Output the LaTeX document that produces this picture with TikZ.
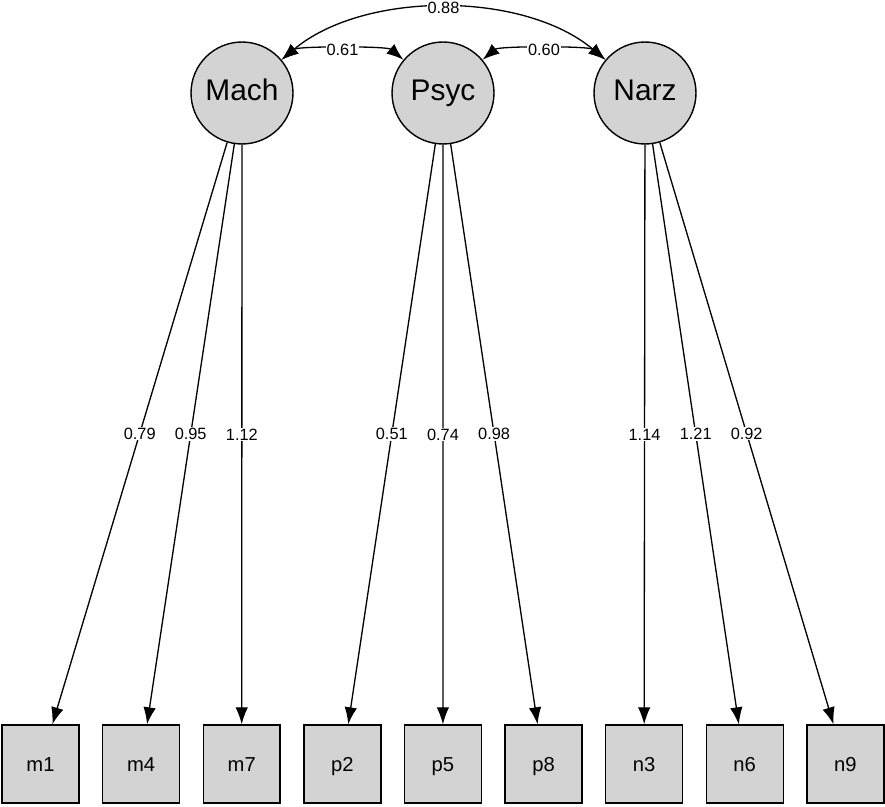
\documentclass[tikz,border=0pt]{standalone}
\usepackage{fontspec}
\setmainfont{Liberation Sans}
\usetikzlibrary{arrows.meta}
\definecolor{nodegray}{RGB}{211,211,211}

\begin{document}
\begin{tikzpicture}[x=0.02cm, y=0.02cm,
    latent/.style={circle, draw, fill=nodegray, line width=0.8pt,
        minimum size=2.04cm, inner sep=0pt, text height=0.9em, text depth=0pt,
        font=\fontsize{17}{20}\selectfont},
    manifest/.style={rectangle, draw, fill=nodegray, line width=0.8pt,
        minimum width=1.54cm, minimum height=1.56cm, inner sep=0pt,
        text height=0.8em, text depth=0pt, font=\fontsize{11.5}{13}\selectfont},
    loading/.style={-{Latex[length=0.34cm,width=0.25cm]}, line width=0.75pt},
    cov/.style={{Latex[length=0.34cm,width=0.25cm]}-{Latex[length=0.34cm,width=0.25cm]}, line width=0.75pt},
    lbl/.style={fill=white, inner sep=0.6pt, font=\fontsize{9.3}{10}\selectfont}]
\useasboundingbox (0,0) rectangle (885,806);

% latent variables
\node[latent] (Mach) at (242,713) {Mach};
\node[latent] (Psyc) at (443,713) {Psyc};
\node[latent] (Narz) at (645,713) {Narz};

% indicators
\foreach \m [count=\i from 0] in {m1,m4,m7,p2,p5,p8,n3,n6,n9}
    \node[manifest] (\m) at (40.5+100.6*\i, 42) {\m};

% loadings
\foreach \f/\t/\v in {
    Mach/m1/0.79, Mach/m4/0.95, Mach/m7/1.12,
    Psyc/p2/0.51, Psyc/p5/0.74, Psyc/p8/0.98,
    Narz/n3/1.14, Narz/n6/1.21, Narz/n9/0.92}
    \draw[loading] (\f) -- node[lbl] {\v} (\t);

% covariances
\draw[cov] (Mach) to[out=40, in=140, looseness=0.45] node[lbl] {0.61} (Psyc);
\draw[cov] (Psyc) to[out=40, in=140, looseness=0.45] node[lbl] {0.60} (Narz);
\draw[cov] (Mach) to[out=40, in=140, looseness=0.85] node[lbl] {0.88} (Narz);

\end{tikzpicture}
\end{document}
